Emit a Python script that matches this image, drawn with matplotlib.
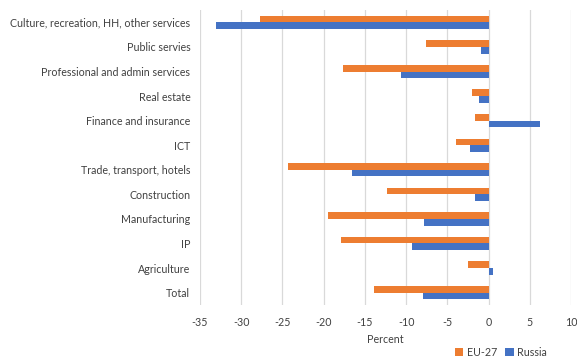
import matplotlib.pyplot as plt
import numpy as np

plt.rcParams['font.family'] = ['Lato', 'DejaVu Sans']

sectors = ['Culture, recreation, HH, other services', 'Public servies',
           'Professional and admin services', 'Real estate',
           'Finance and insurance', 'ICT', 'Trade, transport, hotels',
           'Construction', 'Manufacturing', 'IP', 'Agriculture', 'Total']
eu27 = [-27.7, -7.6, -17.7, -2.0, -1.7, -3.9, -24.3, -12.3, -19.5, -17.9, -2.5, -13.9]
russia = [-33.1, -0.9, -10.6, -1.2, 6.2, -2.3, -16.6, -1.6, -7.8, -9.3, 0.5, -8.0]
ticks = [-35, -30, -25, -20, -15, -10, -5, 0, 5, 10]

fs = 7.7

fig = plt.figure(figsize=(5.77, 3.6), dpi=100)
ax = fig.add_axes([0.3466, 0.153, 0.643, 0.819])

y = np.arange(len(sectors))[::-1]
h = 0.27
ax.barh(y + h / 2, eu27, height=h, color='#ED7D31', label='EU-27', zorder=3)
ax.barh(y - h / 2, russia, height=h, color='#4472C4', label='Russia', zorder=3)

ax.set_xlim(-35, 10)
ax.set_ylim(-0.5, len(sectors) - 0.5)
ax.set_xticks(ticks)
ax.set_xticklabels([str(t) for t in ticks], fontsize=fs, color='#404040')
ax.set_yticks(y)
ax.set_yticklabels(sectors, fontsize=fs, color='#404040')
ax.tick_params(length=0, pad=7)
ax.tick_params(axis='x', pad=9)
ax.grid(axis='x', color='#d9d9d9', linewidth=0.9, zorder=0)
for s in ax.spines.values():
    s.set_visible(False)
ax.set_xlabel('Percent', fontsize=fs, color='#404040', labelpad=4)

fig.legend(loc='center', bbox_to_anchor=(0.868, 0.022), ncol=2, frameon=False,
           fontsize=fs, handlelength=0.8, handleheight=0.8, columnspacing=0.8,
           handletextpad=0.3, labelcolor='#404040')

fig.savefig('out.png', dpi=100)
